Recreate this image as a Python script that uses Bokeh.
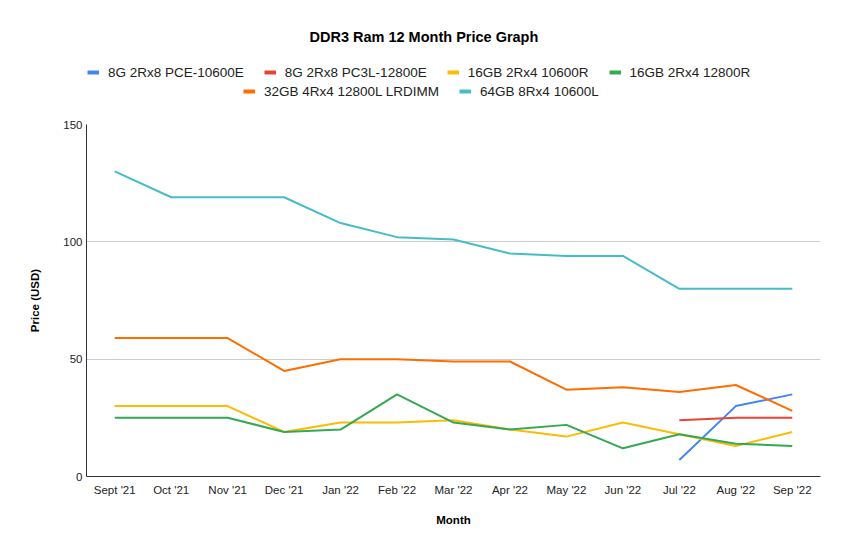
from bokeh.plotting import figure
from bokeh.layouts import column
from bokeh.models import Range1d, FactorRange, Legend, LegendItem
from bokeh.embed import file_html
from bokeh.resources import INLINE

months = ["Sept '21", "Oct '21", "Nov '21", "Dec '21", "Jan '22", "Feb '22",
          "Mar '22", "Apr '22", "May '22", "Jun '22", "Jul '22", "Aug '22", "Sep '22"]

pce_months = ["Jul '22", "Aug '22", "Sep '22"]
pce_values = [7, 30, 35]

pc3l_months = ["Jul '22", "Aug '22", "Sep '22"]
pc3l_values = [24, 25, 25]

r10600_values = [30, 30, 30, 19, 23, 23, 24, 20, 17, 23, 18, 13, 19]
r12800_values = [25, 25, 25, 19, 20, 35, 23, 20, 22, 12, 18, 14, 13]
lrdimm_values = [59, 59, 59, 45, 50, 50, 49, 49, 37, 38, 36, 39, 28]
l64_values = [130, 119, 119, 119, 108, 102, 101, 95, 94, 94, 80, 80, 80]

y_ticks = [0, 50, 100, 150]

series = [
    ("8G 2Rx8 PCE-10600E", pce_months, pce_values, "#4285F4"),
    ("8G 2Rx8 PC3L-12800E", pc3l_months, pc3l_values, "#EA4335"),
    ("16GB 2Rx4 10600R", months, r10600_values, "#FBBC04"),
    ("16GB 2Rx4 12800R", months, r12800_values, "#34A853"),
    ("32GB 4Rx4 12800L LRDIMM", months, lrdimm_values, "#FF6D01"),
    ("64GB 8Rx4 10600L", months, l64_values, "#46BDC6"),
]

FONT = "Liberation Sans"

# ---- header figure: title + legend rows ----
head = figure(width=839, height=110, x_range=FactorRange(*months), y_range=Range1d(0, 150),
              output_backend="svg", toolbar_location=None,
              x_axis_location=None, y_axis_location=None,
              min_border=0, min_border_left=86, min_border_right=19,
              min_border_top=46, min_border_bottom=0)
head.grid.visible = False
head.outline_line_color = None

head.title.text = "DDR3 Ram 12 Month Price Graph"
head.title.align = "left"
head.title.offset = 223
head.title.vertical_align = "top"
head.title.standoff = 0
head.title.text_font = FONT
head.title.text_font_size = "14.5px"
head.title.text_font_style = "bold"
head.title.text_color = "#000000"

# ---- main chart ----
p = figure(width=839, height=438, x_range=FactorRange(*months), y_range=Range1d(0, 150),
           output_backend="svg", toolbar_location=None,
           min_border_left=86, min_border_right=19, min_border_top=14, min_border_bottom=72)

p.outline_line_color = None
p.xgrid.grid_line_color = None
p.ygrid.grid_line_color = "#cccccc"
p.yaxis.ticker = y_ticks

for ax in (p.xaxis, p.yaxis):
    ax.major_tick_line_color = None
    ax.minor_tick_line_color = None
    ax.major_tick_out = 0
    ax.major_tick_in = 0
    ax.minor_tick_out = 0
    ax.minor_tick_in = 0
    ax.axis_line_color = "#333333"
    ax.major_label_text_font = FONT
    ax.major_label_text_font_size = "11.5px"
    ax.major_label_text_color = "#222222"
    ax.axis_label_text_font = FONT
    ax.axis_label_text_font_size = "11.5px"
    ax.axis_label_text_font_style = "bold"
    ax.axis_label_text_color = "#000000"

p.xaxis.axis_label = "Month"
p.yaxis.axis_label = "Price (USD)"
p.xaxis.major_label_standoff = 7
p.yaxis.major_label_standoff = 4
p.xaxis.axis_label_standoff = 15
p.yaxis.axis_label_standoff = 19

items = []
for name, xs, ys, color in series:
    p.line(xs, ys, line_color=color, line_width=2)
    # legend proxy in the header (hidden; only its legend swatch is shown)
    proxy = head.line(xs, ys, line_color=color, line_width=4, visible=False)
    items.append(LegendItem(label=name, renderers=[proxy]))


def make_legend(its, loc):
    return Legend(items=its, location=loc, orientation="horizontal",
                  padding=0, margin=0, spacing=20, label_standoff=9,
                  glyph_width=12, glyph_height=20, label_height=20,
                  label_text_font=FONT, label_text_font_size="13.5px",
                  label_text_color="#222222",
                  inactive_fill_alpha=0,
                  background_fill_alpha=0, border_line_color=None)


head.add_layout(make_legend(items[:4], (1, 28)), "center")
head.add_layout(make_legend(items[4:], (157, 9)), "center")

page = column(head, p, spacing=0)
open("out.html", "w").write(file_html(page, INLINE))
